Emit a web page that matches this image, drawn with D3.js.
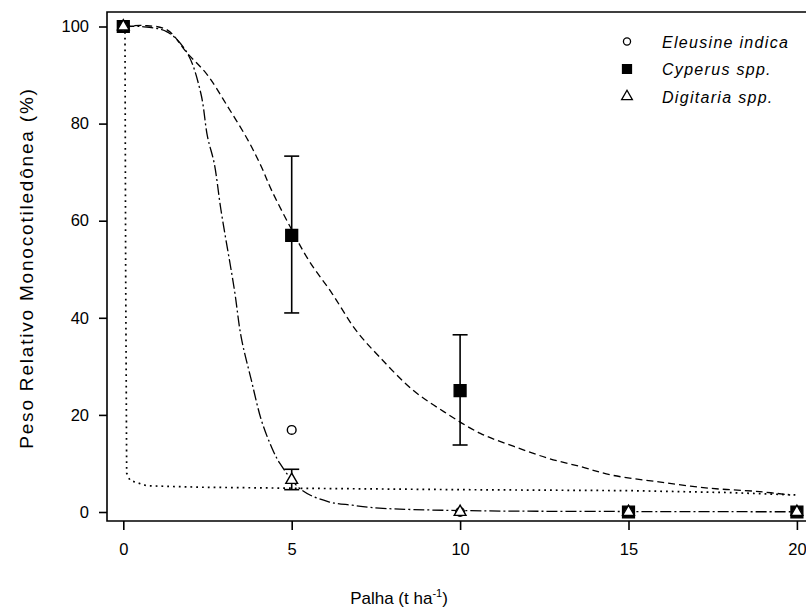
<!DOCTYPE html>
<html>
<head>
<meta charset="utf-8">
<script src="https://cdn.jsdelivr.net/npm/d3@7"></script>
<style>
body { margin: 0; background: #fff; }
text { font-family: Arial, "Liberation Sans", sans-serif; fill: #000; }
</style>
</head>
<body>
<script>
// observed points
var doses = [0, 5, 10, 15, 20];
var eleusine = [100, 16.9, 0, 0, 0];
var cyperus = [100, 57, 25, 0, 0];
var cyperusLo = [null, 41, 13.8, null, null];
var cyperusHi = [null, 73.3, 36.5, null, null];
var digitaria = [100, 6.6, 0, 0, 0];
var digitariaLo = [null, 4.6, null, null, null];
var digitariaHi = [null, 8.8, null, null, null];

// fitted curves
var fitSteepX = [0, 0.5, 1.3, 1.9, 2.3, 2.5, 2.7, 2.9, 3.3, 3.5, 3.8, 4.1, 4.4, 4.65, 5.3, 6.1, 6.8, 7.6, 10, 15, 20];
var fitSteepY = [100, 100, 98.9, 94.5, 86.3, 77.3, 71.8, 62.2, 45.7, 36, 27.2, 18.9, 13.4, 10, 4.5, 2.1, 1.4, 0.8, 0.3, 0.1, 0.05];
var fitCypX = [0, 0.6, 1.3, 1.9, 2.5, 3.1, 3.7, 4.1, 4.4, 4.95, 5.5, 6.2, 6.9, 7.6, 8.6, 9.6, 10.6, 11.6, 12.6, 13.6, 14.5, 15.9, 17.4, 18.9, 19.8];
var fitCypY = [100, 100.2, 99.3, 94.5, 90, 83.5, 76.6, 71.1, 66.3, 58.8, 51.9, 45, 37.5, 32, 25.1, 20.3, 16.2, 13.5, 11.1, 9.3, 7.6, 6.2, 4.9, 4.2, 3.5];
var fitDotX = [0, 0.05, 0.07, 0.1, 0.2, 0.7, 2.3, 5, 10, 15, 18, 20];
var fitDotY = [100, 99, 50, 8, 6.5, 5.4, 5.1, 4.9, 4.6, 4.4, 4.0, 3.5];

var legendNames = ["Eleusine indica", "Cyperus spp.", "Digitaria spp."];
var xTicks = [0, 5, 10, 15, 20];
var yTicks = [0, 20, 40, 60, 80, 100];

var W = 806, H = 612;
var svg = d3.select("body").append("svg").attr("width", W).attr("height", H);

var x = d3.scaleLinear().domain([0, 20]).range([123.3, 796.9]);
var y = d3.scaleLinear().domain([0, 100]).range([512, 26.5]);

var frameL = 107, frameT = 12, frameB = 521, frameR = 812;

// frame
svg.append("path")
    .attr("d", "M" + frameR + "," + frameT + "H" + frameL + "V" + frameB + "H" + frameR)
    .attr("fill", "none").attr("stroke", "#000").attr("stroke-width", 1.6);

// y axis
var yAxis = svg.append("g").attr("transform", "translate(" + frameL + ",0)")
    .call(d3.axisLeft(y).tickValues(yTicks).tickSize(8).tickPadding(10).tickFormat(d3.format("d")));
yAxis.select(".domain").remove();
yAxis.selectAll("line").attr("stroke-width", 1.6);
yAxis.selectAll("text").attr("font-size", 16.5).attr("font-family", "Arial, 'Liberation Sans', sans-serif");

var xAxis = svg.append("g").attr("transform", "translate(0," + frameB + ")")
    .call(d3.axisBottom(x).tickValues(xTicks).tickSize(9).tickPadding(13).tickFormat(d3.format("d")));
xAxis.select(".domain").remove();
xAxis.selectAll("line").attr("stroke-width", 1.6);
xAxis.selectAll("text").attr("font-size", 16.5).attr("font-family", "Arial, 'Liberation Sans', sans-serif");

// titles
svg.append("text")
    .attr("transform", "translate(33,268) rotate(-90)")
    .attr("text-anchor", "middle").attr("font-size", 19).attr("letter-spacing", 1.8)
    .text("Peso Relativo Monocotiledônea (%)");

var xt = svg.append("text").attr("x", 399).attr("y", 604)
    .attr("text-anchor", "middle").attr("font-size", 17);
xt.append("tspan").text("Palha (t ha");
xt.append("tspan").attr("dy", -7).attr("font-size", 11).text("-1");
xt.append("tspan").attr("dy", 7).text(")");

// curves
function curve(xs, ys, dash, c, w) {
    var pts = xs.map(function(d, i){ return [d, ys[i]]; });
    svg.append("path")
        .attr("d", d3.line().x(function(d){ return x(d[0]); })
              .y(function(d){ return y(d[1]); }).curve(c)(pts))
        .attr("fill", "none").attr("stroke", "#000")
        .attr("stroke-width", w).attr("stroke-dasharray", dash);
}
curve(fitDotX, fitDotY, "1.8,4", d3.curveLinear, 1.7);
curve(fitSteepX, fitSteepY, "11,3,2,3", d3.curveCatmullRom, 1.3);
curve(fitCypX, fitCypY, "7,4", d3.curveCatmullRom, 1.3);

// error bars
function errbars(lo, hi) {
    doses.forEach(function(d, i){
        if (lo[i] == null) return;
        var g = svg.append("g").attr("stroke", "#000").attr("stroke-width", 1.6);
        g.append("line").attr("x1", x(d)).attr("x2", x(d)).attr("y1", y(lo[i])).attr("y2", y(hi[i]));
        g.append("line").attr("x1", x(d) - 7.5).attr("x2", x(d) + 7.5).attr("y1", y(lo[i])).attr("y2", y(lo[i]));
        g.append("line").attr("x1", x(d) - 7.5).attr("x2", x(d) + 7.5).attr("y1", y(hi[i])).attr("y2", y(hi[i]));
    });
}
errbars(cyperusLo, cyperusHi);
errbars(digitariaLo, digitariaHi);

// markers
var sym = [
    {s: d3.symbolCircle, size: 60, fill: "#fff"},
    {s: d3.symbolSquare, size: 140, fill: "#000"},
    {s: d3.symbolTriangle, size: 60, fill: "#fff"}
];
function markers(vals, k) {
    svg.append("g").selectAll("path").data(vals).join("path")
        .attr("transform", function(d, i){ return "translate(" + x(doses[i]) + "," + y(d) + ")"; })
        .attr("d", d3.symbol().type(sym[k].s).size(sym[k].size))
        .attr("fill", sym[k].fill).attr("stroke", "#000").attr("stroke-width", 1.4);
}
markers(cyperus, 1);
markers(eleusine, 0);
markers(digitaria, 2);

// legend
var leg = svg.append("g");
var legendSizes = [40, 80, 50];
legendNames.forEach(function(n, i){
    var ly = 41.5 + i * 27.5;
    leg.append("path")
        .attr("transform", "translate(627," + ly + ")")
        .attr("d", d3.symbol().type(sym[i].s).size(legendSizes[i]))
        .attr("fill", sym[i].fill).attr("stroke", "#000").attr("stroke-width", 1.3);
    leg.append("text").attr("x", 662).attr("y", ly + 6)
        .attr("font-size", 16).attr("font-style", "italic").attr("letter-spacing", 1.3).text(n);
});
</script>
</body>
</html>
